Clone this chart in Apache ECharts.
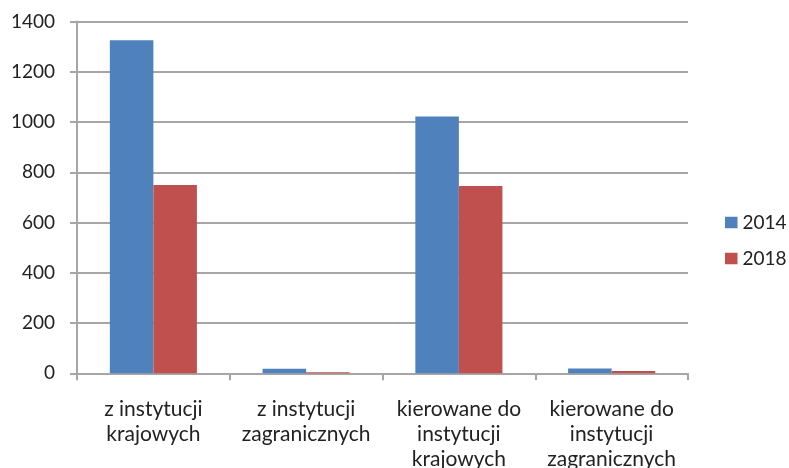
<!DOCTYPE html>
<html>
<head>
<meta charset="utf-8">
<style>
  html, body { margin: 0; padding: 0; background: #ffffff; }
  #chart { width: 789px; height: 468px; }
</style>
<script src="https://cdn.jsdelivr.net/npm/echarts@6/dist/echarts.min.js"></script>
</head>
<body>
<div id="chart"></div>
<script>
// Categories and values
const categories = [
  'z instytucji\nkrajowych',
  'z instytucji\nzagranicznych',
  'kierowane do\ninstytucji\nkrajowych',
  'kierowane do\ninstytucji\nzagranicznych'
];
const seriesNames = ['2014', '2018'];
const values2014 = [1325, 18, 1022, 19];
const values2018 = [749, 4, 745, 9];
const yTicks = { min: 0, max: 1400, interval: 200 };

const FONT = 'Lato, "Open Sans", sans-serif';
const GRID_COLOR = '#a6a6a6';
const TEXT_COLOR = '#222222';

const chart = echarts.init(document.getElementById('chart'), null, { renderer: 'canvas' });

chart.setOption({
  animation: false,
  backgroundColor: '#ffffff',
  textStyle: { fontFamily: FONT },
  grid: {
    left: 77, right: 101, top: 21.5, bottom: 94.7,
    containLabel: false,
    outerBoundsMode: 'none'
  },
  legend: {
    orient: 'vertical',
    left: 720,
    top: 208,
    itemWidth: 12.5,
    itemHeight: 11.5,
    itemGap: 17,
    icon: 'rect',
    textStyle: { fontFamily: FONT, fontSize: 19, color: TEXT_COLOR },
    data: seriesNames
  },
  xAxis: {
    type: 'category',
    data: categories,
    axisLine: { show: true, lineStyle: { color: GRID_COLOR, width: 2 } },
    axisTick: { show: true, alignWithLabel: false, length: 7, lineStyle: { color: GRID_COLOR, width: 2 } },
    axisLabel: {
      interval: 0,
      margin: 23,
      fontFamily: FONT,
      fontSize: 21,
      lineHeight: 25,
      color: TEXT_COLOR
    },
    splitLine: { show: false }
  },
  yAxis: {
    type: 'value',
    min: yTicks.min,
    max: yTicks.max,
    interval: yTicks.interval,
    axisLine: { show: true, lineStyle: { color: GRID_COLOR, width: 2 } },
    axisTick: { show: true, length: 7, lineStyle: { color: GRID_COLOR, width: 2 } },
    axisLabel: {
      margin: 22,
      fontFamily: FONT,
      fontSize: 19,
      color: TEXT_COLOR,
      formatter: (v) => String(v)
    },
    splitLine: { show: true, lineStyle: { color: GRID_COLOR, width: 2 } }
  },
  series: [
    {
      name: seriesNames[0],
      type: 'bar',
      data: values2014,
      barGap: '0%',
      barCategoryGap: '43%',
      itemStyle: { color: '#4F81BD' }
    },
    {
      name: seriesNames[1],
      type: 'bar',
      data: values2018,
      itemStyle: { color: '#C0504D' }
    }
  ]
});
</script>
</body>
</html>
